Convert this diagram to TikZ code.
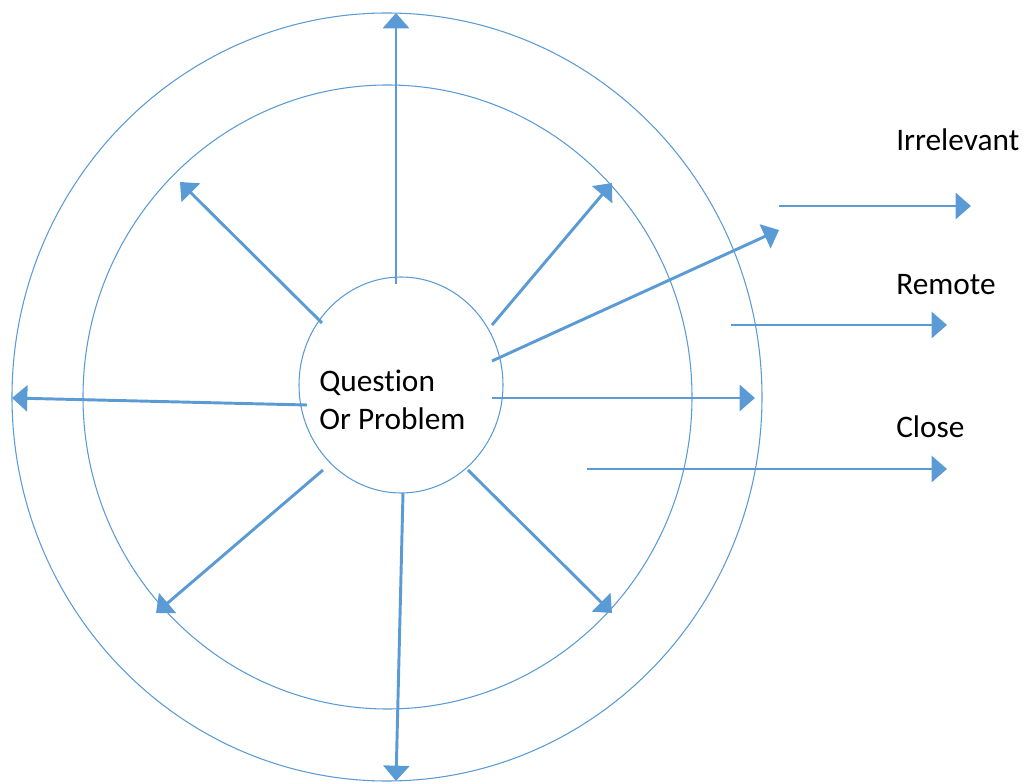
\documentclass[tikz,border=0pt]{standalone}
\usepackage{fontspec}
\setmainfont{Carlito}[Ligatures=NoCommon]
\usetikzlibrary{arrows.meta}
\definecolor{cblue}{HTML}{5B9BD5}
\begin{document}
\begin{tikzpicture}[x=0.75pt,y=-0.75pt,
  ring/.style={draw=cblue,line width=0.8pt},
  arr/.style={draw=cblue,line width=2.2pt,-{Triangle[length=11.5pt,width=19.5pt]}},
  lbl/.style={font=\fontsize{23.5}{28}\selectfont,anchor=base west,inner sep=0pt}]
\useasboundingbox (0,0) rectangle (1026,784);
% rings
\draw[ring] (387,397) ellipse [x radius=375, y radius=384];
\draw[ring] (387.5,397) ellipse [x radius=304.5, y radius=312];
\draw[ring] (401,385) ellipse [x radius=102, y radius=108];
% centre text
\node[lbl] (q1) at (319,392) {Question};
\node[lbl] (q2) at (319,430) {Or Problem};
% coordinates
\coordinate (upS) at (396,284);  \coordinate (upE) at (396,13);
\coordinate (ulS) at (322,323);  \coordinate (ulE) at (180,182);
\coordinate (urS) at (492,325);  \coordinate (urE) at (612,183);
\coordinate (faS) at (492,361);  \coordinate (faE) at (779,230);
\coordinate (rtS) at (492,398);  \coordinate (rtE) at (755,398);
\coordinate (ltS) at (307,405);  \coordinate (ltE) at (12,398);
\coordinate (dlS) at (323,470);  \coordinate (dlE) at (156,613);
\coordinate (dnS) at (403,493);  \coordinate (dnE) at (396,781);
\coordinate (drS) at (468,470);  \coordinate (drE) at (612,613);
\coordinate (irS) at (779,206);  \coordinate (irE) at (971,206);
\coordinate (reS) at (731,325);  \coordinate (reE) at (947,325);
\coordinate (clS) at (587,469);  \coordinate (clE) at (947,469);
% arrows
\draw[arr] (upS) -- (upE);
\draw[arr] (ulS) -- (ulE);
\draw[arr] (urS) -- (urE);
\draw[arr] (faS) -- (faE);
\draw[arr] (rtS) -- (rtE);
\draw[arr] (ltS) -- (ltE);
\draw[arr] (dlS) -- (dlE);
\draw[arr] (dnS) -- (dnE);
\draw[arr] (drS) -- (drE);
\draw[arr] (irS) -- (irE);
\draw[arr] (reS) -- (reE);
\draw[arr] (clS) -- (clE);
% labels
\node[lbl] (irr) at (896,151) {Irrelevant};
\node[lbl] (rem) at (896,295) {Remote};
\node[lbl] (clo) at (896,438) {Close};
\end{tikzpicture}
\end{document}
